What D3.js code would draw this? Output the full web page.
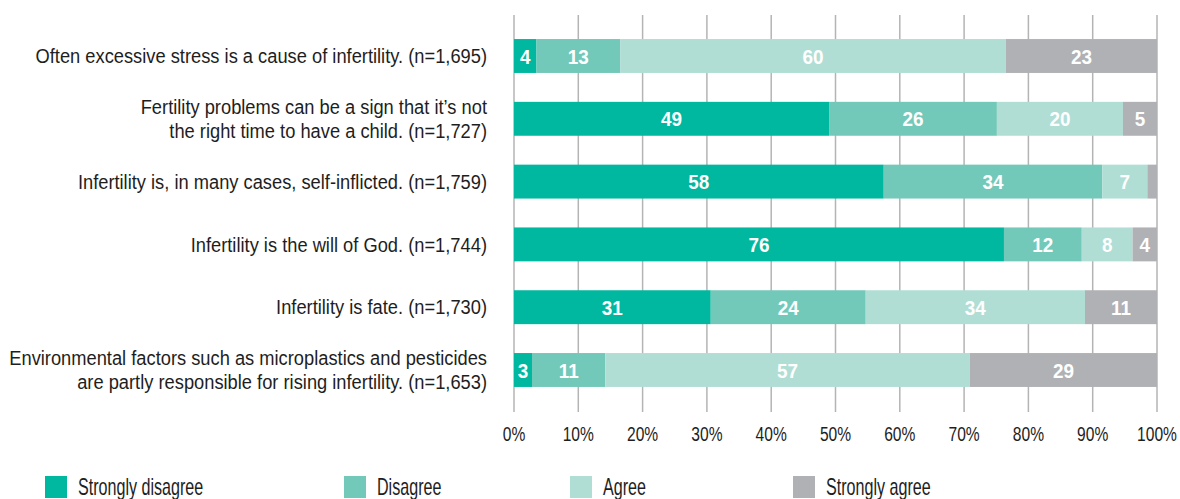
<!DOCTYPE html>
<html>
<head>
<meta charset="utf-8">
<script src="https://cdn.jsdelivr.net/npm/d3@7"></script>
<style>
  body { margin: 0; background: #fff; }
  svg { display: block; font-family: "Liberation Sans", Arial, sans-serif; }
</style>
</head>
<body>
<svg id="chart"></svg>
<script>
// statements (each entry is a list of lines)
const statements = [
  ["Often excessive stress is a cause of infertility. (n=1,695)"],
  ["Fertility problems can be a sign that it\u2019s not", "the right time to have a child. (n=1,727)"],
  ["Infertility is, in many cases, self-inflicted. (n=1,759)"],
  ["Infertility is the will of God. (n=1,744)"],
  ["Infertility is fate. (n=1,730)"],
  ["Environmental factors such as microplastics and pesticides", "are partly responsible for rising infertility. (n=1,653)"]
];

const answers = ["Strongly disagree", "Disagree", "Agree", "Strongly agree"];

// shares in percent
const stronglyDisagree = [3.5, 49.0, 57.5, 76.2, 30.6, 2.8];
const disagree         = [13.0, 26.1, 34.0, 12.1, 24.1, 11.4];
const agree            = [60.0, 19.6, 7.0, 7.9, 34.1, 56.7];
const stronglyAgree    = [23.5, 5.3, 1.5, 3.8, 11.2, 29.1];

// numbers printed in the bars (null = no label)
const labelsSD = [4, 49, 58, 76, 31, 3];
const labelsD  = [13, 26, 34, 12, 24, 11];
const labelsA  = [60, 20, 7, 8, 34, 57];
const labelsSA = [23, 5, null, 4, 11, 29];

const ticks = [0, 10, 20, 30, 40, 50, 60, 70, 80, 90, 100];

const colors = ['#00b89f', '#73c9b9', '#b0ded5', '#b0b1b5'];

const width = 1180, height = 499;
const svg = d3.select('#chart').attr('width', width).attr('height', height);

// the original uses a condensed face, so squeeze the text horizontally
function condense(sel, xOf, f) {
  sel.attr('transform', (d, i) => {
    const cx = xOf(d, i);
    return `translate(${cx},0) scale(${f},1) translate(${-cx},0)`;
  });
}

const x = d3.scaleLinear().domain([0, 100]).range([514, 1157]);
const y = d3.scaleBand().domain(d3.range(statements.length))
  .range([24.6, 401.4]).paddingInner(0.46).paddingOuter(0.23);

// grid
svg.append('g').selectAll('line').data(ticks).join('line')
  .attr('x1', d => x(d)).attr('x2', d => x(d))
  .attr('y1', 15).attr('y2', 412)
  .attr('stroke', '#b4b4b4').attr('stroke-width', 1.5);

// tick labels
svg.append('g').selectAll('text').data(ticks).join('text')
  .attr('x', d => x(d)).attr('y', 441)
  .attr('text-anchor', 'middle')
  .attr('font-size', 19.5).attr('fill', '#1e1e1e')
  .text(d => d + '%')
  .call(condense, d => x(d), 0.8);

const series = [stronglyDisagree, disagree, agree, stronglyAgree];
const labels = [labelsSD, labelsD, labelsA, labelsSA];

const rows = statements.map((s, i) => {
  let start = 0;
  return series.map((ser, k) => {
    const seg = {row: i, k: k, x0: start, x1: start + ser[i], label: labels[k][i]};
    start += ser[i];
    return seg;
  });
}).flat();

const bars = svg.append('g');
bars.selectAll('rect').data(rows).join('rect')
  .attr('x', d => x(d.x0))
  .attr('width', d => x(d.x1) - x(d.x0))
  .attr('y', d => y(d.row))
  .attr('height', y.bandwidth())
  .attr('fill', d => colors[d.k]);

const mid = d => (x(d.x0) + x(d.x1)) / 2;
bars.selectAll('text').data(rows.filter(d => d.label != null)).join('text')
  .attr('x', mid)
  .attr('y', d => y(d.row) + y.bandwidth() / 2)
  .attr('dy', '0.36em')
  .attr('text-anchor', 'middle')
  .attr('font-size', 21).attr('font-weight', 'bold')
  .attr('fill', '#fff')
  .text(d => d.label)
  .call(condense, mid, 0.9);

// statement labels
const cat = svg.append('g').selectAll('text').data(statements).join('text')
  .attr('x', 487)
  .attr('y', (d, i) => y(i) + y.bandwidth() / 2 - (d.length - 1) * 12)
  .attr('text-anchor', 'end')
  .attr('font-size', 20).attr('fill', '#1e1e1e')
  .call(condense, () => 487, 0.915);
cat.selectAll('tspan').data(d => d).join('tspan')
  .attr('x', 487)
  .attr('dy', (d, j) => j == 0 ? '0.36em' : 24)
  .text(d => d);

// legend
const legendX = [45, 344, 570, 793];
const legend = svg.append('g').selectAll('g').data(answers).join('g')
  .attr('transform', (d, i) => `translate(${legendX[i]}, 476)`);
legend.append('rect')
  .attr('width', 22).attr('height', 22)
  .attr('fill', (d, i) => colors[i]);
legend.append('text')
  .attr('x', 33).attr('y', 19)
  .attr('font-size', 23).attr('fill', '#1e1e1e')
  .text(d => d)
  .call(condense, () => 33, 0.7);
</script>
</body>
</html>
